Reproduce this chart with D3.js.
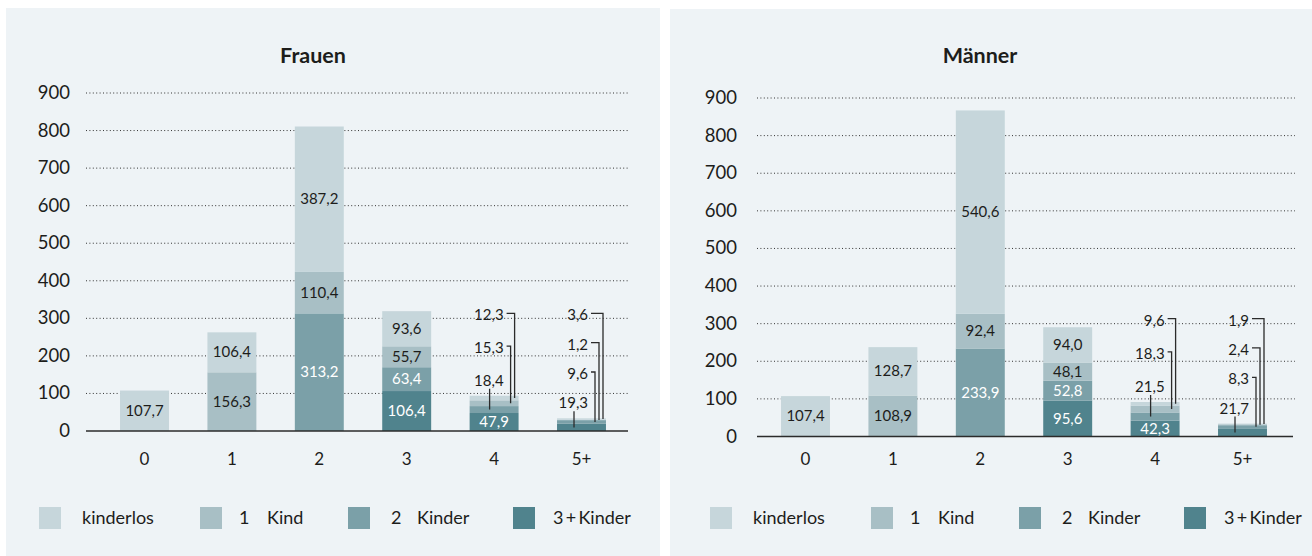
<!DOCTYPE html>
<html>
<head>
<meta charset="utf-8">
<script src="https://cdn.jsdelivr.net/npm/d3@7"></script>
<style>
  body { margin: 0; background: #ffffff; }
  svg { display: block; font-family: Lato, "Open Sans", sans-serif; }
</style>
</head>
<body>
<div id="chart"></div>
<script>
// Categories on the x axis and the y ticks
const categories = ["0", "1", "2", "3", "4", "5+"];
const yTicks = [0, 100, 200, 300, 400, 500, 600, 700, 800, 900];
const seriesNames = ["kinderlos", "1 Kind", "2 Kinder", "3 + Kinder"];

// Frauen
const frauenKinderlos = [107.7, 106.4, 387.2, 93.6, 12.3, 3.6];
const frauenEinKind   = [0, 156.3, 110.4, 55.7, 15.3, 1.2];
const frauenZweiKinder = [0, 0, 313.2, 63.4, 18.4, 9.6];
const frauenDreiPlus  = [0, 0, 0, 106.4, 47.9, 19.3];

// Männer
const maennerKinderlos = [107.4, 128.7, 540.6, 94.0, 9.6, 1.9];
const maennerEinKind   = [0, 108.9, 92.4, 48.1, 18.3, 2.4];
const maennerZweiKinder = [0, 0, 233.9, 52.8, 21.5, 8.3];
const maennerDreiPlus  = [0, 0, 0, 95.6, 42.3, 21.7];

const keys = ["dreiPlus", "zwei", "eins", "kinderlos"];   // stacking order, bottom first
const colors = {
    kinderlos: "#c6d6db",
    eins: "#a8bfc5",
    zwei: "#7ba0a8",
    dreiPlus: "#50838d"
};
const legendKeys = ["kinderlos", "eins", "zwei", "dreiPlus"];
const textDark = "#1d1d1b";

const fmt = v => d3.format(".1f")(v).replace(".", ",");

const svg = d3.select("#chart").append("svg")
    .attr("width", 1312)
    .attr("height", 556);

function drawPanel(cfg) {
    const rows = categories.map((c, i) => ({
        cat: c,
        kinderlos: cfg.kinderlos[i],
        eins: cfg.eins[i],
        zwei: cfg.zwei[i],
        dreiPlus: cfg.dreiPlus[i]
    }));

    const g = svg.append("g");

    // panel background
    g.append("rect")
        .attr("x", cfg.panelX)
        .attr("y", cfg.panelY)
        .attr("width", cfg.panelW)
        .attr("height", 556 - cfg.panelY)
        .attr("fill", "#eef3f6");

    const x = d3.scaleBand()
        .domain(categories)
        .range(cfg.bandRange)
        .paddingInner(0.44)
        .paddingOuter(0.22);

    const y = d3.scaleLinear()
        .domain([0, 900])
        .range([cfg.y0, cfg.y900]);

    // title
    g.append("text")
        .attr("x", cfg.titleX)
        .attr("y", 63)
        .attr("text-anchor", "middle")
        .attr("font-size", 21.5)
        .attr("font-weight", "bold")
        .attr("fill", textDark)
        .text(cfg.title);

    // dotted grid lines
    g.selectAll(".grid")
        .data(yTicks.filter(t => t > 0))
        .enter().append("line")
        .attr("x1", cfg.axisX0)
        .attr("x2", cfg.gridX1)
        .attr("y1", d => y(d))
        .attr("y2", d => y(d))
        .attr("stroke", "#333")
        .attr("stroke-width", 1)
        .attr("stroke-dasharray", "1,2.4");

    // y tick labels
    g.selectAll(".ytick")
        .data(yTicks)
        .enter().append("text")
        .attr("x", cfg.tickX)
        .attr("y", d => y(d) + 6)
        .attr("text-anchor", "end")
        .attr("font-size", 18.5)
        .attr("fill", textDark)
        .text(d => d);

    // stacked bars
    const stacked = d3.stack().keys(keys)(rows);
    stacked.forEach(layer => {
        g.selectAll(null)
            .data(layer.filter(d => d[1] - d[0] > 0))
            .enter().append("rect")
            .attr("x", d => x(d.data.cat))
            .attr("y", d => y(d[1]))
            .attr("width", x.bandwidth())
            .attr("height", d => y(d[0]) - y(d[1]))
            .attr("fill", colors[layer.key]);
    });

    // baseline
    g.append("line")
        .attr("x1", cfg.axisX0)
        .attr("x2", cfg.baseX1)
        .attr("y1", y(0))
        .attr("y2", y(0))
        .attr("stroke", "#2b2b2b")
        .attr("stroke-width", 1.6);

    // x tick labels
    g.selectAll(".xtick")
        .data(categories)
        .enter().append("text")
        .attr("x", d => x(d) + x.bandwidth() / 2)
        .attr("y", 465)
        .attr("text-anchor", "middle")
        .attr("font-size", 17)
        .attr("fill", textDark)
        .text(d => d);

    // value labels: inside when the segment is tall enough, otherwise a callout above
    rows.forEach(row => {
        const cx = x(row.cat) + x.bandwidth() / 2;
        let base = 0;
        const segs = [];
        keys.forEach(k => {
            const v = row[k];
            if (v > 0) {
                segs.push({ key: k, value: v, lo: base, hi: base + v });
                base += v;
            }
        });
        const barTop = y(base);
        const inside = segs.filter(s => y(s.lo) - y(s.hi) >= 14);
        const callouts = segs.filter(s => y(s.lo) - y(s.hi) < 14);

        inside.forEach(s => {
            g.append("text")
                .attr("x", cx)
                .attr("y", (y(s.lo) + y(s.hi)) / 2 + 5)
                .attr("text-anchor", "middle")
                .attr("font-size", 15)
                .attr("fill", (s.key === "zwei" || s.key === "dreiPlus") ? "#ffffff" : textDark)
                .text(fmt(s.value));
        });

        if (callouts.length === 0) return;
        const n = callouts.length;
        const firstY = barTop - 15;
        const topY = y(cfg.calloutTop);
        const step = n > 1 ? (firstY - topY) / (n - 1) : 0;
        const xr = cx + 9.5 - 3 * Math.max(0, n - 3);

        callouts.forEach((s, i) => {
            const yc = firstY - step * i;
            const segMid = (y(s.lo) + y(s.hi)) / 2;
            g.append("text")
                .attr("x", xr)
                .attr("y", yc + 5)
                .attr("text-anchor", "end")
                .attr("font-size", 15)
                .attr("fill", textDark)
                .text(fmt(s.value));
            if (i === 0) {
                g.append("line")
                    .attr("x1", xr - 14).attr("x2", xr - 14)
                    .attr("y1", yc + 8).attr("y2", segMid)
                    .attr("stroke", "#2b2b2b").attr("stroke-width", 1.3);
            } else {
                const vx = xr + 3 + 4 * i;
                g.append("path")
                    .attr("d", `M${xr + 3},${yc - 2}H${vx}V${segMid}`)
                    .attr("fill", "none")
                    .attr("stroke", "#2b2b2b")
                    .attr("stroke-width", 1.3);
            }
        });
    });

    // legend
    const legendParts = [
        [["kinderlos", 43]],
        [["1", 39], ["Kind", 67]],
        [["2", 43], ["Kinder", 69]],
        [["3\u2009+\u2009Kinder", 40]]
    ];
    legendKeys.forEach((k, i) => {
        const lx = cfg.legendX[i];
        g.append("rect")
            .attr("x", lx)
            .attr("y", 507)
            .attr("width", 22)
            .attr("height", 22)
            .attr("fill", colors[k]);
        legendParts[i].forEach(p => {
            g.append("text")
                .attr("x", lx + p[1])
                .attr("y", 524)
                .attr("font-size", 18)
                .attr("fill", textDark)
                .text(p[0]);
        });
    });
}

drawPanel({
    title: "Frauen",
    kinderlos: frauenKinderlos,
    eins: frauenEinKind,
    zwei: frauenZweiKinder,
    dreiPlus: frauenDreiPlus,
    panelX: 6, panelY: 8, panelW: 654,
    bandRange: [100.8, 625.2],
    y0: 431, y900: 93,
    axisX0: 86, gridX1: 630, baseX1: 628,
    tickX: 70, titleX: 313,
    calloutTop: 308,
    legendX: [39, 200, 348, 513]
});

drawPanel({
    title: "Männer",
    kinderlos: maennerKinderlos,
    eins: maennerEinKind,
    zwei: maennerZweiKinder,
    dreiPlus: maennerDreiPlus,
    panelX: 670, panelY: 9, panelW: 642,
    bandRange: [761.8, 1286.2],
    y0: 436.5, y900: 98,
    axisX0: 757, gridX1: 1295, baseX1: 1293,
    tickX: 737, titleX: 980,
    calloutTop: 308,
    legendX: [710, 871, 1019, 1184]
});
</script>
</body>
</html>
